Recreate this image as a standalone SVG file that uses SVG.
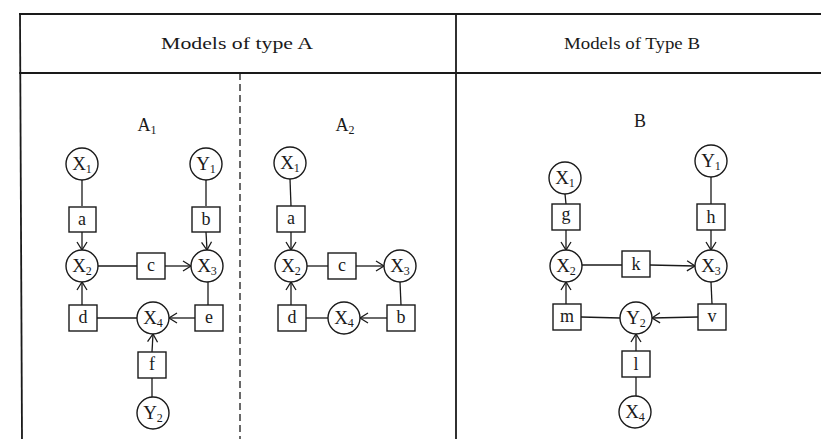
<svg xmlns="http://www.w3.org/2000/svg" width="821" height="439" viewBox="0 0 821 439">
  <style>
    .frame { stroke: #1a1a1a; stroke-width: 1.8; fill: none; }
    .dash { stroke: #1a1a1a; stroke-width: 1.3; fill: none; stroke-dasharray: 7 4; }
    .node circle { fill: #fff; stroke: #1a1a1a; stroke-width: 1.4; }
    .node rect { fill: #fff; stroke: #1a1a1a; stroke-width: 1.4; }
    text { font-family: "Liberation Serif", "DejaVu Serif", serif; fill: #1a1a1a; text-anchor: middle; }
    .head { font-size: 16px; }
    .title { font-size: 18px; }
    .var { font-size: 19px; }
    .sub { font-size: 12px; }
    .coef { font-size: 18px; }
    .edges line { stroke: #1a1a1a; stroke-width: 1.3; fill: none; }
    .edges line.arr { marker-end: url(#vee); }
  </style>
  <defs>
    <marker id="vee" markerUnits="userSpaceOnUse" markerWidth="13" markerHeight="13" refX="9" refY="6" orient="auto">
      <path d="M1,1 L9,6 L1,11" fill="none" stroke="#1a1a1a" stroke-width="1.3"/>
    </marker>
  </defs>

  <!-- table frame -->
  <g id="frame">
    <line class="frame" x1="19" y1="14" x2="821" y2="14"/>
    <line class="frame" x1="19" y1="73" x2="821" y2="73"/>
    <line class="frame" x1="20" y1="14" x2="22" y2="439"/>
    <line class="frame" x1="456" y1="14" x2="456" y2="439"/>
    <line class="dash" x1="240" y1="73" x2="240" y2="439"/>
    <text class="head" x="237" y="49" textLength="152" lengthAdjust="spacingAndGlyphs">Models of type A</text>
    <text class="head" x="632" y="49" textLength="136" lengthAdjust="spacingAndGlyphs">Models of Type B</text>
    <text class="title" x="147" y="131">A<tspan class="sub" dy="3">1</tspan></text>
    <text class="title" x="345" y="131">A<tspan class="sub" dy="3">2</tspan></text>
    <text class="title" x="640" y="127">B</text>
  </g>

  <!-- connectors -->
  <g id="connectors" class="edges">
    <!-- A1 -->
    <line x1="82" y1="180" x2="82" y2="206"/>
    <line class="arr" x1="82" y1="232" x2="82" y2="250"/>
    <line x1="206" y1="180" x2="206" y2="206"/>
    <line class="arr" x1="206" y1="232" x2="207" y2="250"/>
    <line x1="98" y1="266" x2="137" y2="266"/>
    <line class="arr" x1="165" y1="266" x2="191" y2="266"/>
    <line x1="208" y1="282" x2="208" y2="305"/>
    <line class="arr" x1="195" y1="318" x2="169" y2="318"/>
    <line x1="137" y1="318" x2="96" y2="318"/>
    <line class="arr" x1="82" y1="305" x2="82" y2="282"/>
    <line x1="152" y1="397" x2="152" y2="378"/>
    <line class="arr" x1="152" y1="352" x2="153" y2="334"/>
    <!-- A2 -->
    <line x1="290" y1="179" x2="291" y2="206"/>
    <line class="arr" x1="291" y1="232" x2="291" y2="250"/>
    <line x1="307" y1="266" x2="328" y2="266"/>
    <line class="arr" x1="356" y1="266" x2="384" y2="266"/>
    <line x1="400" y1="282" x2="401" y2="305"/>
    <line class="arr" x1="387" y1="318" x2="360" y2="318"/>
    <line x1="328" y1="318" x2="306" y2="318"/>
    <line class="arr" x1="291" y1="305" x2="291" y2="282"/>
    <!-- B -->
    <line x1="565" y1="194" x2="566" y2="204"/>
    <line class="arr" x1="566" y1="230" x2="566" y2="250"/>
    <line x1="711" y1="177" x2="711" y2="204"/>
    <line class="arr" x1="711" y1="230" x2="711" y2="250"/>
    <line x1="582" y1="265" x2="622" y2="265"/>
    <line class="arr" x1="650" y1="265" x2="695" y2="266"/>
    <line x1="711" y1="282" x2="712" y2="304"/>
    <line class="arr" x1="698" y1="317" x2="652" y2="318"/>
    <line x1="620" y1="318" x2="581" y2="317"/>
    <line class="arr" x1="566" y1="304" x2="566" y2="282"/>
    <line x1="636" y1="396" x2="636" y2="377"/>
    <line class="arr" x1="636" y1="351" x2="636" y2="334"/>
  </g>

  <!-- A1 nodes -->
  <g id="a1-x1" class="node"><circle cx="82" cy="164" r="16"/><text class="var" x="82" y="170">X<tspan class="sub" dy="3">1</tspan></text></g>
  <g id="a1-y1" class="node"><circle cx="206" cy="164" r="16"/><text class="var" x="206" y="170">Y<tspan class="sub" dy="3">1</tspan></text></g>
  <g id="a1-a" class="node"><rect x="69" y="207" width="27" height="25"/><text class="coef" x="82" y="225">a</text></g>
  <g id="a1-b" class="node"><rect x="192" y="207" width="28" height="25"/><text class="coef" x="206" y="225">b</text></g>
  <g id="a1-x2" class="node"><circle cx="82" cy="266" r="16"/><text class="var" x="82" y="272">X<tspan class="sub" dy="3">2</tspan></text></g>
  <g id="a1-c" class="node"><rect x="137" y="253" width="28" height="26"/><text class="coef" x="151" y="271">c</text></g>
  <g id="a1-x3" class="node"><circle cx="207" cy="266" r="16"/><text class="var" x="207" y="272">X<tspan class="sub" dy="3">3</tspan></text></g>
  <g id="a1-d" class="node"><rect x="69" y="305" width="28" height="26"/><text class="coef" x="83" y="323">d</text></g>
  <g id="a1-x4" class="node"><circle cx="153" cy="318" r="16"/><text class="var" x="153" y="324">X<tspan class="sub" dy="3">4</tspan></text></g>
  <g id="a1-e" class="node"><rect x="195" y="305" width="28" height="26"/><text class="coef" x="209" y="323">e</text></g>
  <g id="a1-f" class="node"><rect x="138" y="352" width="28" height="26"/><text class="coef" x="152" y="370">f</text></g>
  <g id="a1-y2" class="node"><circle cx="153" cy="413" r="16"/><text class="var" x="153" y="419">Y<tspan class="sub" dy="3">2</tspan></text></g>

  <!-- A2 nodes -->
  <g id="a2-x1" class="node"><circle cx="290" cy="163" r="16"/><text class="var" x="290" y="169">X<tspan class="sub" dy="3">1</tspan></text></g>
  <g id="a2-a" class="node"><rect x="277" y="206" width="28" height="26"/><text class="coef" x="291" y="224">a</text></g>
  <g id="a2-x2" class="node"><circle cx="291" cy="266" r="16"/><text class="var" x="291" y="272">X<tspan class="sub" dy="3">2</tspan></text></g>
  <g id="a2-c" class="node"><rect x="328" y="253" width="28" height="26"/><text class="coef" x="342" y="271">c</text></g>
  <g id="a2-x3" class="node"><circle cx="400" cy="266" r="16"/><text class="var" x="400" y="272">X<tspan class="sub" dy="3">3</tspan></text></g>
  <g id="a2-d" class="node"><rect x="278" y="305" width="28" height="26"/><text class="coef" x="292" y="323">d</text></g>
  <g id="a2-x4" class="node"><circle cx="344" cy="318" r="16"/><text class="var" x="344" y="324">X<tspan class="sub" dy="3">4</tspan></text></g>
  <g id="a2-b" class="node"><rect x="387" y="305" width="28" height="26"/><text class="coef" x="401" y="323">b</text></g>

  <!-- B nodes -->
  <g id="b-x1" class="node"><circle cx="565" cy="178" r="16"/><text class="var" x="565" y="184">X<tspan class="sub" dy="3">1</tspan></text></g>
  <g id="b-y1" class="node"><circle cx="711" cy="161" r="16"/><text class="var" x="711" y="167">Y<tspan class="sub" dy="3">1</tspan></text></g>
  <g id="b-g" class="node"><rect x="552" y="204" width="28" height="26"/><text class="coef" x="566" y="220">g</text></g>
  <g id="b-h" class="node"><rect x="697" y="204" width="28" height="26"/><text class="coef" x="711" y="223">h</text></g>
  <g id="b-x2" class="node"><circle cx="566" cy="266" r="16"/><text class="var" x="566" y="272">X<tspan class="sub" dy="3">2</tspan></text></g>
  <g id="b-k" class="node"><rect x="622" y="251" width="28" height="26"/><text class="coef" x="636" y="270">k</text></g>
  <g id="b-x3" class="node"><circle cx="711" cy="266" r="16"/><text class="var" x="711" y="272">X<tspan class="sub" dy="3">3</tspan></text></g>
  <g id="b-m" class="node"><rect x="553" y="304" width="28" height="26"/><text class="coef" x="567" y="322">m</text></g>
  <g id="b-y2" class="node"><circle cx="636" cy="318" r="16"/><text class="var" x="636" y="324">Y<tspan class="sub" dy="3">2</tspan></text></g>
  <g id="b-v" class="node"><rect x="698" y="304" width="28" height="26"/><text class="coef" x="712" y="322">v</text></g>
  <g id="b-l" class="node"><rect x="622" y="351" width="28" height="26"/><text class="coef" x="636" y="370">l</text></g>
  <g id="b-x4" class="node"><circle cx="635" cy="412" r="16"/><text class="var" x="635" y="418">X<tspan class="sub" dy="3">4</tspan></text></g>
</svg>
